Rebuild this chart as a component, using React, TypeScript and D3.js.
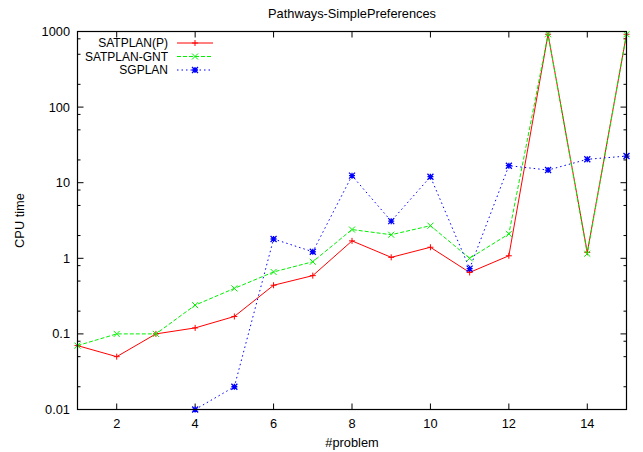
import React from 'react';
import * as d3 from 'd3';

const problems = [1, 2, 3, 4, 5, 6, 7, 8, 9, 10, 11, 12, 13, 14, 15];
const satplanP = [0.07, 0.05, 0.1, 0.12, 0.17, 0.44, 0.59, 1.7, 1.03, 1.4, 0.65, 1.08, 920, 1.2, 920];
const satplanGnt = [0.07, 0.1, 0.1, 0.24, 0.4, 0.66, 0.9, 2.4, 2.05, 2.7, 1.0, 2.1, 920, 1.15, 920];
const sgplan = [null, null, null, 0.01, 0.02, 1.8, 1.22, 12.4, 3.1, 12, 0.73, 16.8, 14.7, 20.4, 22.5];

const xTicks = [2, 4, 6, 8, 10, 12, 14];
const yTicks = [0.01, 0.1, 1, 10, 100, 1000];
const yTickLabels = ['0.01', '0.1', '1', '10', '100', '1000'];
const minorMult = [2, 5, 8];

const W = 643;
const H = 452;
const m = { left: 77.5, right: 626.5, top: 31.5, bottom: 409.5 };
const font = '"Liberation Sans", Arial, sans-serif';

type Pt = { x: number; y: number | null };

function Marker({ kind, x, y, color }: { kind: string; x: number; y: number; color: string }) {
  const s = 3;
  const plus = `M${x - s},${y}H${x + s}M${x},${y - s}V${y + s}`;
  const cross = `M${x - s},${y - s}L${x + s},${y + s}M${x - s},${y + s}L${x + s},${y - s}`;
  const d = kind === 'plus' ? plus : kind === 'cross' ? cross : plus + cross;
  return <path d={d} stroke={color} strokeWidth={kind === 'star' ? 1.3 : 1} fill="none" />;
}

export default function App() {
  const x = d3.scaleLinear().domain([1, 15]).range([m.left, m.right]);
  const y = d3.scaleLog().domain([0.01, 1000]).range([m.bottom, m.top]);

  const series = [
    { name: 'SATPLAN(P)', values: satplanP, color: '#ff0000', dash: undefined, marker: 'plus' },
    { name: 'SATPLAN-GNT', values: satplanGnt, color: '#00f000', dash: '4,2', marker: 'cross' },
    { name: 'SGPLAN', values: sgplan, color: '#0000ff', dash: '1.5,3', marker: 'star' },
  ];

  const line = d3
    .line<Pt>()
    .defined((d) => d.y != null)
    .x((d) => x(d.x))
    .y((d) => y(d.y as number));

  const minor: number[] = [];
  for (let dec = 0.01; dec < 1000; dec *= 10) {
    minorMult.forEach((k) => minor.push(+(dec * k).toPrecision(3)));
  }

  return (
    <svg
      width={W}
      height={H}
      style={{ position: 'absolute', left: 0, top: 0, background: '#fff' }}
      fontFamily={font}
      fontSize={12.8}
    >
      <rect width={W} height={H} fill="#fff" />
      <text x={(m.left + m.right) / 2} y={18} textAnchor="middle">
        Pathways-SimplePreferences
      </text>

      {/* y ticks */}
      {yTicks.map((t, i) => (
        <g key={'y' + t}>
          <line x1={m.left} x2={m.left + 6} y1={y(t)} y2={y(t)} stroke="#000" />
          <line x1={m.right} x2={m.right - 6} y1={y(t)} y2={y(t)} stroke="#000" />
          <text x={70} y={y(t)} dy="0.35em" textAnchor="end">
            {yTickLabels[i]}
          </text>
        </g>
      ))}
      {minor.map((t) => (
        <g key={'my' + t}>
          <line x1={m.left} x2={m.left + 3} y1={y(t)} y2={y(t)} stroke="#000" />
          <line x1={m.right} x2={m.right - 3} y1={y(t)} y2={y(t)} stroke="#000" />
        </g>
      ))}

      {/* x ticks */}
      {xTicks.map((t) => (
        <g key={'x' + t}>
          <line x1={x(t)} x2={x(t)} y1={m.bottom} y2={m.bottom - 6} stroke="#000" />
          <line x1={x(t)} x2={x(t)} y1={m.top} y2={m.top + 6} stroke="#000" />
          <text x={x(t)} y={428} textAnchor="middle">
            {t}
          </text>
        </g>
      ))}

      <text x={(m.left + m.right) / 2} y={447} textAnchor="middle">
        #problem
      </text>
      <text
        transform={`translate(24,${(m.top + m.bottom) / 2}) rotate(-90)`}
        textAnchor="middle"
      >
        CPU time
      </text>

      {/* series */}
      {series.map((s) => {
        const pts: Pt[] = problems.map((p, i) => ({ x: p, y: s.values[i] }));
        return (
          <g key={s.name}>
            <path d={line(pts) || ''} fill="none" stroke={s.color} strokeWidth={1} strokeDasharray={s.dash} />
            {pts
              .filter((d) => d.y != null)
              .map((d) => (
                <Marker key={d.x} kind={s.marker} x={x(d.x)} y={y(d.y as number)} color={s.color} />
              ))}
          </g>
        );
      })}

      {/* legend */}
      {series.map((s, i) => {
        const ly = 43 + i * 13.5;
        return (
          <g key={'leg' + s.name}>
            <text x={168} y={ly} dy="0.35em" textAnchor="end" fontSize={12}>
              {s.name}
            </text>
            <line x1={177} x2={213} y1={ly} y2={ly} stroke={s.color} strokeDasharray={s.dash} />
            <Marker kind={s.marker} x={195} y={ly} color={s.color} />
          </g>
        );
      })}

      <rect
        x={m.left}
        y={m.top}
        width={m.right - m.left}
        height={m.bottom - m.top}
        fill="none"
        stroke="#000"
        strokeWidth={1.2}
      />
    </svg>
  );
}
